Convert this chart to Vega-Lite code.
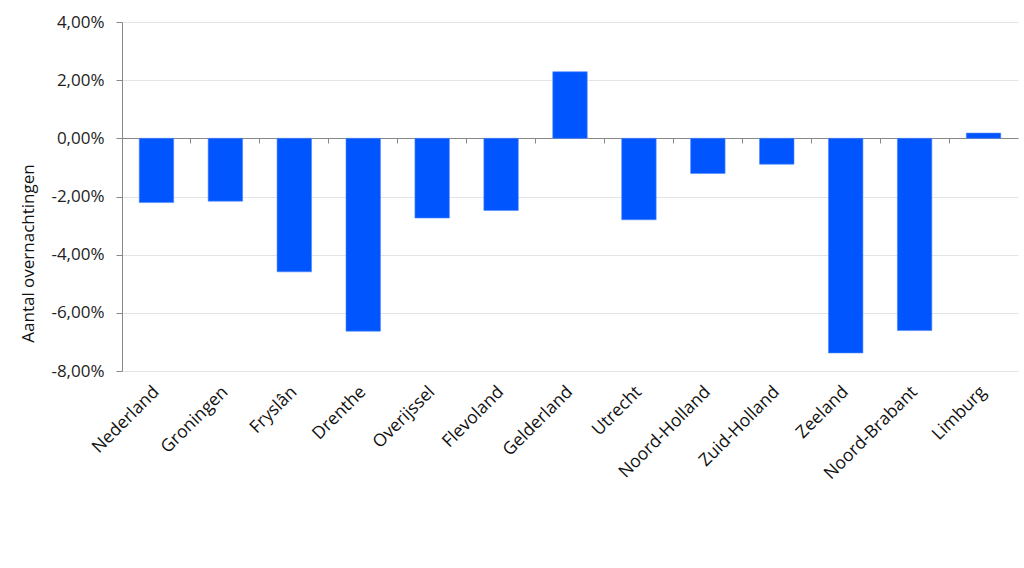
{
  "$schema": "https://vega.github.io/schema/vega-lite/v6.json",
  "width": 896,
  "height": 349,
  "autosize": {"type": "none"},
  "padding": {"left": 122, "top": 22, "right": 6, "bottom": 197},
  "background": "white",
  "config": {
    "locale": {"number": {"decimal": ",", "thousands": ".", "grouping": [3], "currency": ["€", ""], "minus": "-"}},
    "font": "Open Sans",
    "view": {"stroke": null}
  },
  "data": {
    "values": [
      {"regio": "Nederland", "waarde": -0.0221},
      {"regio": "Groningen", "waarde": -0.0216},
      {"regio": "Fryslân", "waarde": -0.0459},
      {"regio": "Drenthe", "waarde": -0.0663},
      {"regio": "Overijssel", "waarde": -0.0274},
      {"regio": "Flevoland", "waarde": -0.0248},
      {"regio": "Gelderland", "waarde": 0.0229},
      {"regio": "Utrecht", "waarde": -0.0280},
      {"regio": "Noord-Holland", "waarde": -0.0121},
      {"regio": "Zuid-Holland", "waarde": -0.0089},
      {"regio": "Zeeland", "waarde": -0.0738},
      {"regio": "Noord-Brabant", "waarde": -0.0661},
      {"regio": "Limburg", "waarde": 0.0018}
    ]
  },
  "layer": [
    {
      "mark": {"type": "bar", "color": "#0055ff", "stroke": "#4d88ff", "strokeWidth": 0.6, "width": {"band": 0.5}},
      "encoding": {
        "x": {
          "field": "regio", "type": "nominal", "sort": null,
          "scale": {"paddingInner": 0, "paddingOuter": 0},
          "axis": {
            "title": null, "orient": "bottom", "domain": false, "ticks": false,
            "labelAngle": -45, "labelAlign": "right", "labelBaseline": "middle",
            "labelFontSize": 17.5, "labelColor": "#111111", "labelPadding": 18, "grid": false
          }
        },
        "y": {
          "field": "waarde", "type": "quantitative",
          "scale": {"domain": [-0.08, 0.04], "nice": false, "zero": false},
          "axis": {
            "title": "Aantal overnachtingen", "titleFontSize": 17, "titleFontWeight": "normal",
            "titleColor": "#111111", "titlePadding": 13, "titleY": 231,
            "format": ".2%", "values": [-0.08, -0.06, -0.04, -0.02, 0, 0.02, 0.04],
            "labelFontSize": 17, "labelColor": "#222222", "labelPadding": 12,
            "domainColor": "#888888", "tickColor": "#888888", "tickSize": 6,
            "gridColor": "#e4e4e4", "grid": true
          }
        }
      }
    },
    {
      "mark": {"type": "bar", "opacity": 0},
      "encoding": {
        "x": {
          "field": "regio", "type": "nominal", "sort": null,
          "axis": {
            "orient": "top", "offset": -116, "title": null, "labels": false,
            "domain": true, "domainColor": "#888888", "ticks": true, "tickColor": "#888888",
            "tickSize": -5, "bandPosition": 0, "tickExtra": true, "grid": false
          }
        },
        "y": {"field": "waarde", "type": "quantitative"}
      }
    }
  ],
  "resolve": {"axis": {"x": "independent"}}
}
